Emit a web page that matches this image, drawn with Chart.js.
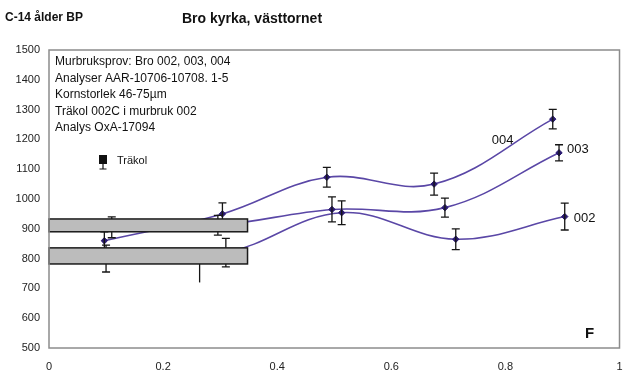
<!DOCTYPE html>
<html>
<head>
<meta charset="utf-8">
<script src="https://cdn.jsdelivr.net/npm/chart.js@4/dist/chart.umd.min.js"></script>
<style>
  html, body { margin: 0; padding: 0; background: #ffffff; }
  #wrap { width: 625px; height: 372px; }
</style>
</head>
<body>
<div id="wrap"><canvas id="c" width="625" height="372"></canvas></div>
<script>
// Mortar samples: position F (0..1) and C-14 age BP with ± error
const x002 = [0.100, 0.310, 0.513, 0.713, 0.904];
const y002 = [800, 820, 954, 865, 941];
const e002 = [45, 48, 40, 35, 45];

const x003 = [0.110, 0.296, 0.496, 0.694, 0.894];
const y003 = [905, 912, 965, 971, 1155];
const e003 = [35, 33, 42, 32, 27];

const x004 = [0.097, 0.304, 0.487, 0.675, 0.883];
const y004 = [860, 950, 1073, 1050, 1268];
const e004 = [30, 37, 33, 37, 33];

// Charcoal (träkol) sample, minus-only error
const xTrakol = [0.264];
const yTrakol = [800];
const eTrakolMinus = [80];

// Horizontal reference bands (age ranges) spanning F = 0 .. bandEnd
const bandLow  = [890, 782];
const bandHigh = [933, 836];
const bandEnd  = [0.348, 0.348];

// Series labels placed in data coordinates
const seriesLabels = ['004', '003', '002'];
const labelX = [0.776, 0.908, 0.920];
const labelY = [1195, 1168, 936];

// Axis ticks
const yMin = 500, yMax = 1500, yStep = 100;
const xMin = 0, xMax = 1, xStep = 0.2;

// Text block in the upper-left corner of the plot
const infoLines = [
  'Murbruksprov: Bro 002, 003, 004',
  'Analyser AAR-10706-10708. 1-5',
  'Kornstorlek 46-75µm',
  'Träkol 002C i murbruk 002',
  'Analys OxA-17094'
];

const LINE = '#5a47a6';
const MARK = '#2a1a70';
const FONT = '"Liberation Sans", Arial, sans-serif';

function pts(xs, ys) { return xs.map((v, i) => ({ x: v, y: ys[i] })); }

function sampleSet(label, xs, ys, es) {
  return {
    label,
    data: pts(xs, ys),
    errPlus: es,
    errMinus: es,
    showLine: true,
    borderColor: LINE,
    borderWidth: 1.6,
    tension: 0.38,
    pointStyle: 'rectRot',
    pointRadius: 3.2,
    pointBackgroundColor: MARK,
    pointBorderColor: MARK,
    pointBorderWidth: 1
  };
}

const overlay = {
  id: 'overlay',
  afterDatasetsDraw(chart) {
    const { ctx, scales: { x, y } } = chart;
    ctx.save();
    // error bars
    ctx.strokeStyle = '#151515';
    ctx.lineWidth = 1.3;
    chart.data.datasets.forEach(ds => {
      ds.data.forEach((p, i) => {
        const px = x.getPixelForValue(p.x);
        const up = ds.errPlus ? ds.errPlus[i] : 0;
        const dn = ds.errMinus ? ds.errMinus[i] : 0;
        const top = y.getPixelForValue(p.y + up);
        const bot = y.getPixelForValue(p.y - dn);
        ctx.beginPath();
        ctx.moveTo(px, top); ctx.lineTo(px, bot);
        if (ds.caps !== false) {
          if (up) { ctx.moveTo(px - 4, top); ctx.lineTo(px + 4, top); }
          if (dn) { ctx.moveTo(px - 4, bot); ctx.lineTo(px + 4, bot); }
        }
        ctx.stroke();
      });
    });
    // grey bands drawn over the series
    bandLow.forEach((lo, i) => {
      const x0 = x.getPixelForValue(0);
      const x1 = x.getPixelForValue(bandEnd[i]);
      const y0 = y.getPixelForValue(bandHigh[i]);
      const y1 = y.getPixelForValue(lo);
      ctx.fillStyle = '#bcbcbc';
      ctx.fillRect(x0, y0, x1 - x0, y1 - y0);
      ctx.strokeStyle = '#1a1a1a';
      ctx.lineWidth = 1.5;
      ctx.strokeRect(x0, y0, x1 - x0, y1 - y0);
    });
    ctx.restore();
  },
  afterDraw(chart) {
    const { ctx, chartArea: a, scales: { x, y } } = chart;
    ctx.save();
    // plot frame
    ctx.strokeStyle = '#8c8c8c';
    ctx.lineWidth = 1.5;
    ctx.strokeRect(a.left, a.top, a.right - a.left, a.bottom - a.top);

    ctx.fillStyle = '#111';
    ctx.textBaseline = 'middle';
    ctx.textAlign = 'left';
    ctx.font = 'bold 12px ' + FONT;
    ctx.fillText('C-14 ålder BP', 5, 18);
    ctx.font = 'bold 14px ' + FONT;
    ctx.fillText('Bro kyrka, västtornet', 182, 19);

    ctx.font = '12px ' + FONT;
    infoLines.forEach((t, i) => ctx.fillText(t, 55, 62 + i * 16.5));

    // Träkol legend symbol
    ctx.fillRect(99, 155, 8, 9);
    ctx.strokeStyle = '#111';
    ctx.lineWidth = 1.2;
    ctx.beginPath();
    ctx.moveTo(103, 164); ctx.lineTo(103, 169);
    ctx.moveTo(99.5, 169); ctx.lineTo(106.5, 169);
    ctx.stroke();
    ctx.font = '11px ' + FONT;
    ctx.fillText('Träkol', 117, 161);

    ctx.font = '13px ' + FONT;
    seriesLabels.forEach((t, i) => {
      ctx.fillText(t, x.getPixelForValue(labelX[i]), y.getPixelForValue(labelY[i]));
    });

    ctx.font = 'bold 15px ' + FONT;
    ctx.fillText('F', 585, 334);
    ctx.restore();
  }
};

new Chart(document.getElementById('c'), {
  type: 'scatter',
  data: {
    datasets: [
      sampleSet('002', x002, y002, e002),
      sampleSet('003', x003, y003, e003),
      sampleSet('004', x004, y004, e004),
      {
        label: 'Träkol',
        data: pts(xTrakol, yTrakol),
        errMinus: eTrakolMinus,
        caps: false,
        showLine: false,
        pointStyle: 'rect',
        pointRadius: 4.5,
        pointBackgroundColor: '#000',
        pointBorderColor: '#000'
      }
    ]
  },
  options: {
    responsive: false,
    animation: false,
    devicePixelRatio: 1,
    layout: { padding: { top: 50, right: -3, left: 0, bottom: 0 } },
    plugins: { legend: { display: false }, tooltip: { enabled: false } },
    events: [],
    scales: {
      x: {
        type: 'linear', min: xMin, max: xMax,
        grid: { display: false, drawTicks: false },
        border: { display: false },
        ticks: {
          stepSize: xStep, padding: 12, color: '#222',
          font: { size: 11, family: FONT },
          callback: v => String(Math.round(v * 10) / 10)
        },
        afterFit(s) { s.height = 24; s.paddingLeft = 0; s.paddingRight = 0; }
      },
      y: {
        type: 'linear', min: yMin, max: yMax,
        grid: { display: false, drawTicks: false },
        border: { display: false },
        ticks: {
          stepSize: yStep, padding: 9, color: '#222',
          font: { size: 11, family: FONT },
          callback: v => String(v)
        },
        afterFit(s) { s.width = 49; s.paddingTop = 0; s.paddingBottom = 0; }
      }
    }
  },
  plugins: [overlay]
});
</script>
</body>
</html>
